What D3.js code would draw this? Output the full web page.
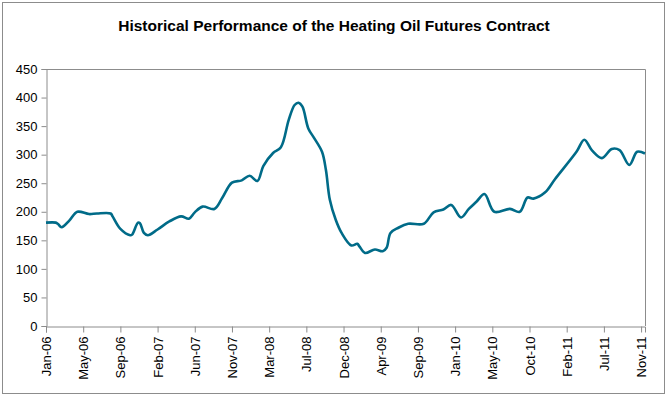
<!DOCTYPE html>
<html>
<head>
<meta charset="utf-8">
<script src="https://cdn.jsdelivr.net/npm/d3@7"></script>
<style>
  body { margin: 0; background: #fff; }
  text { font-family: "Liberation Sans", Arial, sans-serif; }
</style>
</head>
<body>
<div id="chart"></div>
<script>
// weekly index (0 = first week of Jan-06) and price
const weeks = [0, 5, 6, 8, 12, 16, 22, 26, 33, 34, 38, 43, 44, 47, 48, 50, 52, 57, 63, 69, 73, 76, 80, 86, 90, 95,
  100, 104, 108, 111, 116, 120, 124, 127, 129, 131, 134, 137, 141, 143, 145, 148, 151, 156, 159, 160, 163, 168,
  172, 174, 176, 180, 185, 193, 198, 203, 207, 212, 216, 220, 224, 229, 237, 242, 246, 249, 255, 260, 271, 275,
  279, 284, 289, 293, 298, 302, 306];
const prices = [181, 181, 179, 173, 185, 200, 196, 197, 197, 192, 170, 159, 160, 181, 180, 163, 159, 169, 183, 192, 188, 199, 209, 205, 224, 251,
  255, 263, 254, 280, 303, 313, 361, 387, 391, 384, 346, 329, 305, 273, 221, 186, 163, 141, 144, 140, 128, 134,
  131, 137, 163, 172, 179, 179, 199, 204, 212, 190, 205, 218, 231, 200, 205, 200, 225, 223, 234, 257, 305, 326,
  307, 294, 310, 308, 282, 305, 302];
const tickLabels = ["Jan-06", "May-06", "Sep-06", "Feb-07", "Jun-07", "Nov-07", "Mar-08", "Jul-08", "Dec-08",
  "Apr-09", "Sep-09", "Jan-10", "May-10", "Oct-10", "Feb-11", "Jul-11", "Nov-11"];
const yTicks = [0, 50, 100, 150, 200, 250, 300, 350, 400, 450];
const title = "Historical Performance of the Heating Oil Futures Contract";

const w = 667, h = 396;
const margin = { top: 69, right: 23, bottom: 70, left: 46 };

const svg = d3.select("#chart")
  .append("svg")
  .attr("width", w)
  .attr("height", h);

// chart frame
svg.append("rect")
  .attr("x", 2.5).attr("y", 2.5)
  .attr("width", w - 5).attr("height", h - 5)
  .attr("fill", "#fff")
  .attr("stroke", "#8c8c8c");

svg.append("text")
  .attr("x", 334).attr("y", 31)
  .attr("text-anchor", "middle")
  .attr("font-size", "15.5px")
  .attr("font-weight", "bold")
  .text(title);

const x = d3.scaleLinear().domain([0, 306]).range([margin.left, w - margin.right + 1]);
const y = d3.scaleLinear().domain([0, 450]).range([h - margin.bottom, margin.top]);

// plot area outline (top and right)
svg.append("path")
  .attr("d", `M${x(0)},${y(450) + 0.5}H${x(306) + 0.5}V${y(0)}`)
  .attr("fill", "none")
  .attr("stroke", "#8c8c8c");

const yAxis = svg.append("g")
  .attr("transform", `translate(${x(0) + 0.5},0)`)
  .call(d3.axisLeft(y).tickValues(yTicks).tickSize(5).tickPadding(4));

const xAxis = svg.append("g")
  .attr("transform", `translate(0,${y(0) + 0.5})`)
  .call(d3.axisBottom(x)
    .tickValues(d3.range(0, 305, 19))
    .tickFormat((d, i) => tickLabels[i])
    .tickSize(6));

xAxis.selectAll("text")
  .attr("transform", "rotate(-90)")
  .attr("text-anchor", "end")
  .attr("dx", "-10px")
  .attr("dy", "0.35em")
  .attr("x", 0).attr("y", 0);

[xAxis, yAxis].forEach(g => {
  g.selectAll(".domain, line").attr("stroke", "#8c8c8c");
  g.selectAll("text")
    .attr("font-size", "13px")
    .attr("fill", "#000")
    .attr("font-family", "'Liberation Sans', Arial, sans-serif");
});

const data = weeks.map((wk, i) => ({ wk, v: prices[i] }));

svg.append("path")
  .datum(data)
  .attr("fill", "none")
  .attr("stroke", "#006b88")
  .attr("stroke-width", 2.6)
  .attr("stroke-linejoin", "round")
  .attr("d", d3.line()
    .x(d => x(d.wk))
    .y(d => y(d.v))
    .curve(d3.curveCatmullRom.alpha(0.5)));
</script>
</body>
</html>
